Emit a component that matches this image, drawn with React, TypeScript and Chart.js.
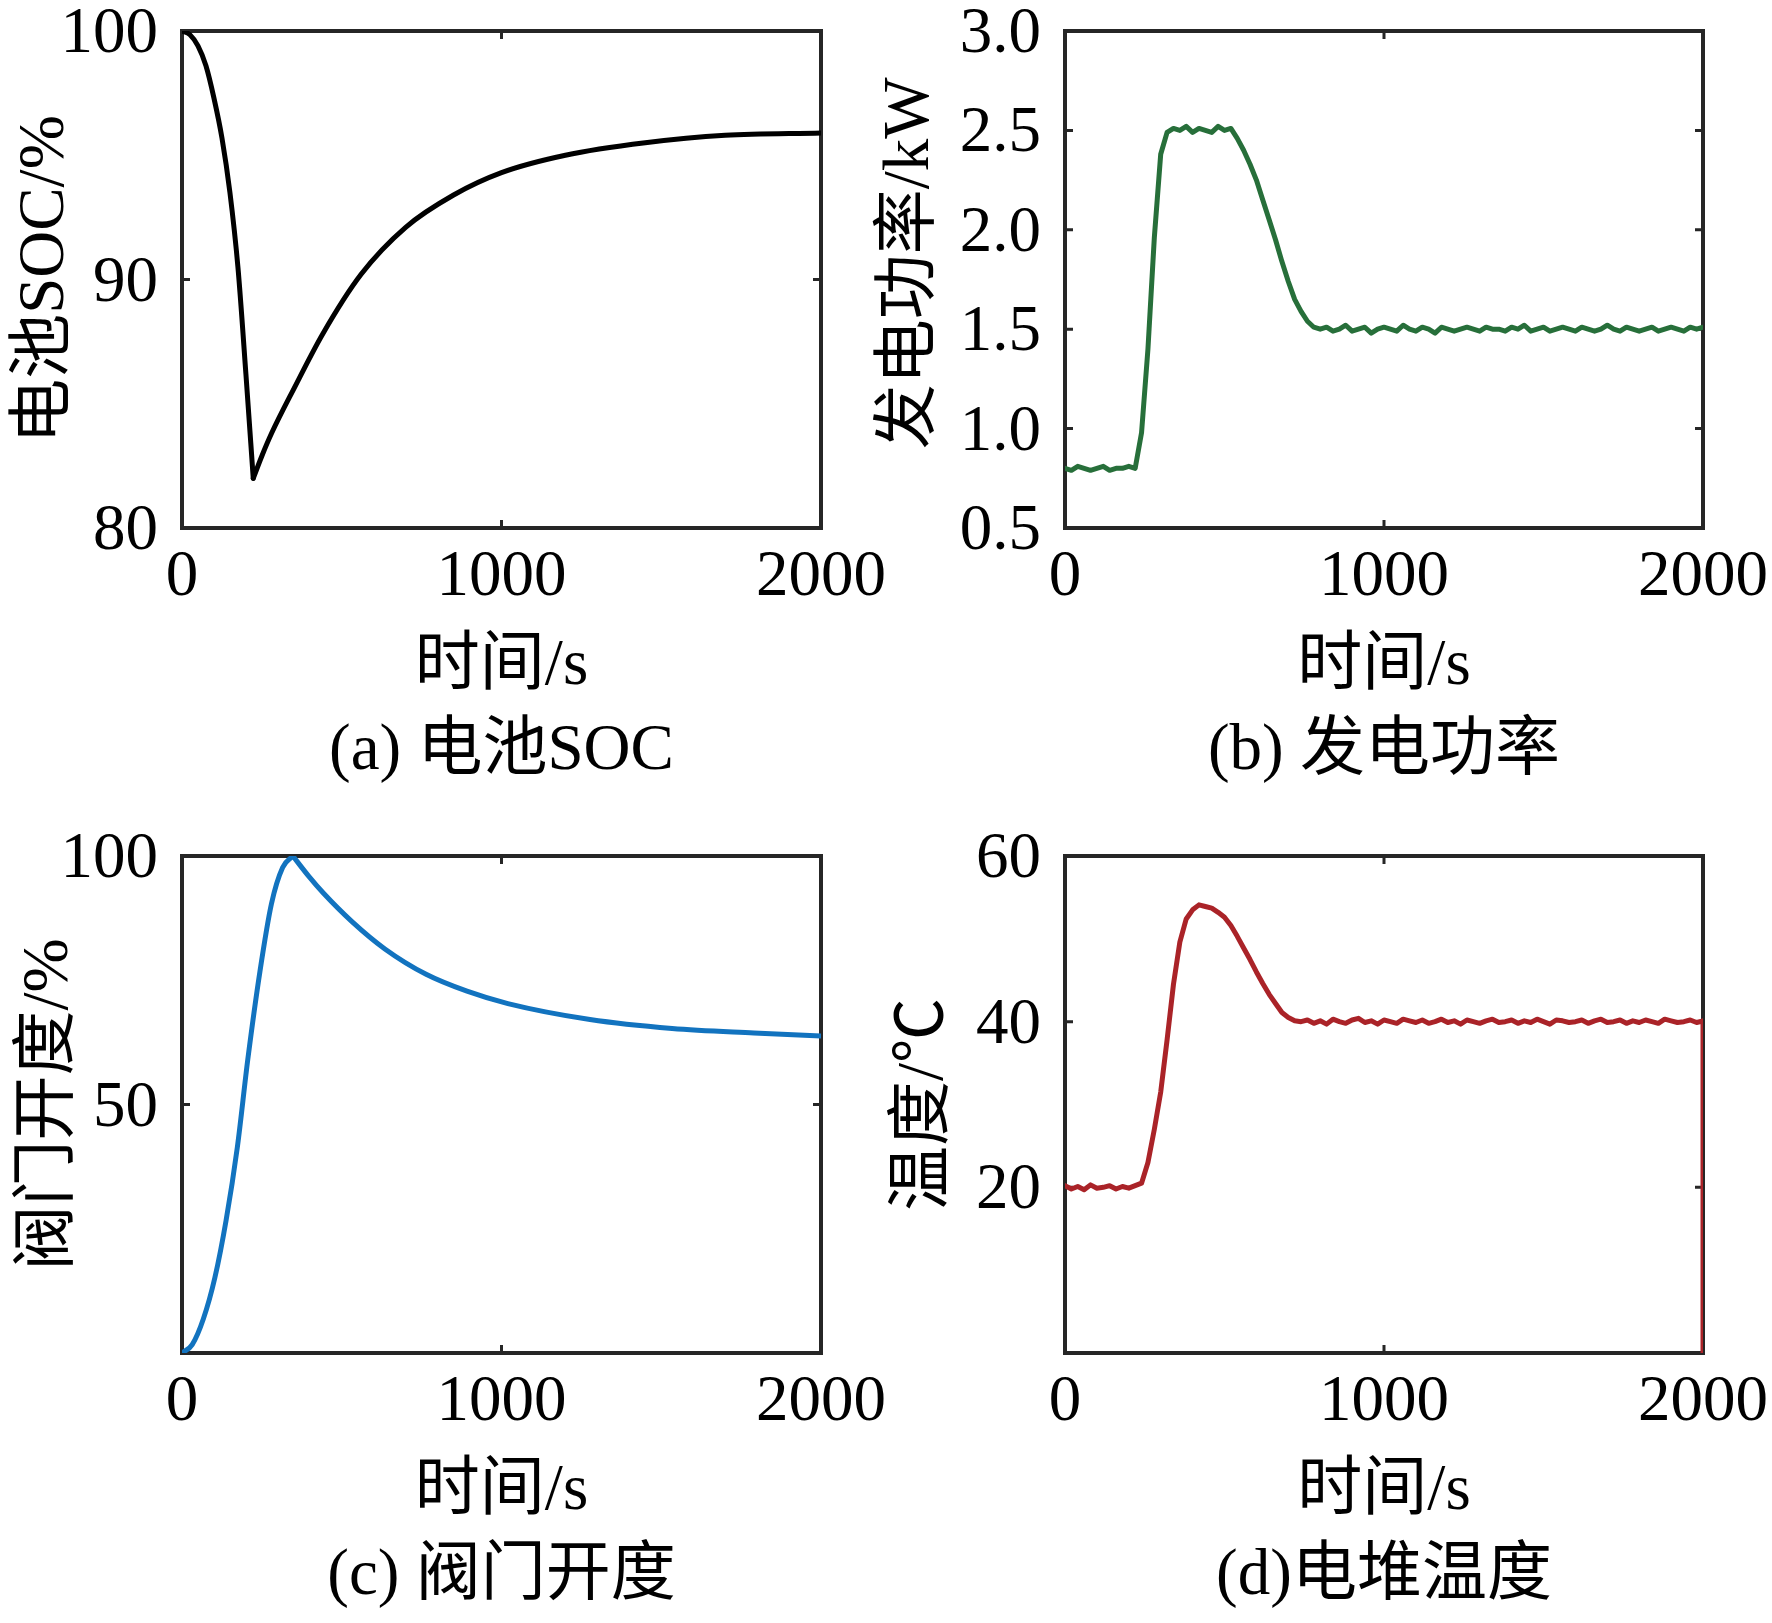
import { useEffect, useRef } from "react";
import { Chart, registerables } from "chart.js";

Chart.register(...registerables);

const FONT = '"Liberation Serif", "Noto Sans CJK SC", serif';

// shared time axis
const timeTicks = [0, 1000, 2000];
const sampleStep = 20; // s, for the measured (noisy) series

// (a) 电池SOC: discharge, then recovery (split at the sharp minimum)
const socDropTime = [0, 25, 50, 75, 100, 125, 150, 175, 200, 223];
const socDropValue = [100, 99.85, 99.4, 98.6, 97.3, 95.7, 93.5, 90.5, 86.2, 82.0];
const socRiseTime = [223, 250, 280, 350, 440, 560, 700, 850, 1000, 1200, 1450, 1700, 2000];
const socRiseValue = [82.0, 82.9, 83.8, 85.6, 87.8, 90.2, 92.1, 93.4, 94.3, 95.0, 95.5, 95.8, 95.9];

// (b) 发电功率, one value every 20 s from 0 to 2000 s
const powerValue = [
  0.80, 0.79, 0.81, 0.80, 0.79, 0.80, 0.81, 0.79, 0.80, 0.80, 0.81, 0.80,
  0.98, 1.40, 1.96, 2.38, 2.49, 2.51, 2.50, 2.52, 2.49, 2.51, 2.50, 2.49, 2.52, 2.50, 2.51,
  2.46, 2.40, 2.33, 2.25, 2.15, 2.05, 1.95, 1.84, 1.74, 1.65, 1.59, 1.54, 1.51, 1.50,
  1.51, 1.49, 1.50, 1.52, 1.49, 1.50, 1.51, 1.48, 1.50, 1.51,
  1.50, 1.49, 1.52, 1.50, 1.49, 1.51, 1.50, 1.48, 1.51, 1.50,
  1.49, 1.50, 1.51, 1.50, 1.49, 1.51, 1.50, 1.50, 1.49, 1.51,
  1.50, 1.52, 1.49, 1.50, 1.51, 1.49, 1.50, 1.51, 1.50, 1.49,
  1.51, 1.50, 1.49, 1.50, 1.52, 1.50, 1.49, 1.51, 1.50, 1.49,
  1.50, 1.51, 1.49, 1.50, 1.51, 1.50, 1.49, 1.51, 1.50, 1.51,
];

// (c) 阀门开度: opening, then relaxing (split at the sharp peak)
const valveOpenTime = [0, 32, 67, 103, 138, 173, 206, 244, 280, 315, 347];
const valveOpenValue = [0, 1.7, 6.9, 15.2, 26.7, 41.3, 59.1, 76.8, 90.4, 97.7, 100];
const valveCloseTime = [347, 397, 443, 532, 635, 764, 892, 1020, 1277, 1534, 1790, 2000];
const valveCloseValue = [100, 95.9, 92.5, 86.8, 81.3, 76.2, 72.8, 70.3, 67.1, 65.3, 64.4, 63.8];

// (d) 电堆温度, one value every 20 s, then the drop at the end
const tempValue = [
  20.2, 19.8, 20.1, 19.7, 20.3, 19.9, 20.0, 20.2, 19.8, 20.1, 19.9, 20.2,
  20.5, 23.0, 27.0, 31.5, 37.8, 44.5, 49.6, 52.4, 53.5, 54.1, 53.9, 53.7, 53.2,
  52.6, 51.6, 50.3, 48.9, 47.5, 46.0, 44.6, 43.3, 42.2, 41.1, 40.5, 40.1, 40.0,
  40.2, 39.8, 40.1, 39.7, 40.3, 40.0, 39.8, 40.2, 40.4, 39.9,
  40.1, 39.7, 40.2, 40.0, 39.8, 40.3, 40.1, 39.9, 40.2, 39.8,
  40.0, 40.3, 39.9, 40.1, 39.7, 40.2, 40.0, 39.8, 40.1, 40.3,
  39.9, 40.0, 40.2, 39.8, 40.1, 39.9, 40.3, 40.0, 39.7, 40.2,
  40.1, 39.9, 40.0, 40.2, 39.8, 40.1, 40.3, 39.9, 40.0, 40.2,
  39.8, 40.1, 39.9, 40.2, 40.0, 39.8, 40.3, 40.1, 39.9, 40.0,
  40.2, 39.9, 40.1,
];
const tempEndTime = 2000;
const tempEndValue = 0;

type Pt = { x: number; y: number };

const pairs = (t: number[], v: number[]): Pt[] => v.map((y, i) => ({ x: t[i], y }));
const sampled = (v: number[]): Pt[] => v.map((y, i) => ({ x: i * sampleStep, y }));

const TICK_LEN = 8;
const CAPTION_GAP = 224;

const boxPlugin = {
  id: "box",
  beforeDatasetsDraw(chart: any) {
    const { ctx, chartArea, scales } = chart;
    const { left, top, right, bottom } = chartArea;
    ctx.save();
    ctx.strokeStyle = "#262626";
    ctx.lineWidth = 4;
    ctx.strokeRect(left, top, right - left, bottom - top);
    ctx.lineWidth = 3;
    ctx.beginPath();
    for (const t of scales.x.ticks) {
      const px = scales.x.getPixelForValue(t.value);
      ctx.moveTo(px, bottom);
      ctx.lineTo(px, bottom - TICK_LEN);
      ctx.moveTo(px, top);
      ctx.lineTo(px, top + TICK_LEN);
    }
    for (const t of scales.y.ticks) {
      const py = scales.y.getPixelForValue(t.value);
      ctx.moveTo(left, py);
      ctx.lineTo(left + TICK_LEN, py);
      ctx.moveTo(right, py);
      ctx.lineTo(right - TICK_LEN, py);
    }
    ctx.stroke();
    ctx.restore();
  },
  afterDraw(chart: any, _args: any, opts: any) {
    if (!opts.caption) return;
    const { ctx, chartArea } = chart;
    ctx.save();
    ctx.font = `65px ${FONT}`;
    ctx.fillStyle = "#000";
    ctx.textAlign = "center";
    ctx.textBaseline = "middle";
    ctx.fillText(opts.caption, (chartArea.left + chartArea.right) / 2, chartArea.bottom + CAPTION_GAP);
    ctx.restore();
  },
};

type PanelDef = {
  plotLeft: number;
  plotTop: number;
  plotWidth: number;
  yAxisWidth: number;
  yTitlePad: number;
  segments: Pt[][];
  color: string;
  smooth: boolean;
  yMin: number;
  yMax: number;
  yStep: number;
  decimals: number;
  hideZero: boolean;
  yTitle: string;
  caption: string;
};

const PAD_TOP = 31;
const PLOT_H = 497;
const X_AXIS_H = 178;
const PAD_BOTTOM = 86;
const PAD_RIGHT = 65;

const panels: PanelDef[] = [
  {
    plotLeft: 182, plotTop: 31, plotWidth: 639, yAxisWidth: 182, yTitlePad: 7,
    segments: [pairs(socDropTime, socDropValue), pairs(socRiseTime, socRiseValue)],
    color: "#000000", smooth: true,
    yMin: 80, yMax: 100, yStep: 10, decimals: 0, hideZero: false,
    yTitle: "电池SOC/%", caption: "(a) 电池SOC",
  },
  {
    plotLeft: 1065, plotTop: 31, plotWidth: 638, yAxisWidth: 205, yTitlePad: 12,
    segments: [sampled(powerValue)], color: "#276F3A", smooth: false,
    yMin: 0.5, yMax: 3.0, yStep: 0.5, decimals: 1, hideZero: false,
    yTitle: "  发电功率/kW", caption: "(b) 发电功率",
  },
  {
    plotLeft: 182, plotTop: 856, plotWidth: 639, yAxisWidth: 182, yTitlePad: 11,
    segments: [pairs(valveOpenTime, valveOpenValue), pairs(valveCloseTime, valveCloseValue)],
    color: "#1273BF", smooth: true,
    yMin: 0, yMax: 100, yStep: 50, decimals: 0, hideZero: true,
    yTitle: "阀门开度/%", caption: "(c) 阀门开度",
  },
  {
    plotLeft: 1065, plotTop: 856, plotWidth: 638, yAxisWidth: 205, yTitlePad: 26,
    segments: [[...sampled(tempValue), { x: tempEndTime, y: tempEndValue }]],
    color: "#AA2328", smooth: false,
    yMin: 0, yMax: 60, yStep: 20, decimals: 0, hideZero: true,
    yTitle: "温度/℃", caption: "(d)电堆温度",
  },
];

function Panel({ def }: { def: PanelDef }) {
  const ref = useRef<HTMLCanvasElement>(null);
  const width = def.yAxisWidth + def.plotWidth + PAD_RIGHT;
  const height = PAD_TOP + PLOT_H + X_AXIS_H + PAD_BOTTOM;

  useEffect(() => {
    if (!ref.current) return;
    const tickFont = { family: FONT, size: 65, lineHeight: 1.2 };
    const chart = new Chart(ref.current, {
      type: "line",
      data: {
        datasets: def.segments.map((seg) => ({
          data: seg,
          borderColor: def.color,
          borderWidth: 5,
          pointRadius: 0,
          fill: false,
          tension: 0,
          cubicInterpolationMode: def.smooth ? "monotone" : "default",
          borderJoinStyle: "round",
          borderCapStyle: "round",
        })),
      },
      options: {
        responsive: false,
        animation: false,
        events: [],
        layout: { padding: { top: PAD_TOP, right: PAD_RIGHT, bottom: PAD_BOTTOM, left: 0 } },
        plugins: {
          legend: { display: false },
          tooltip: { enabled: false },
          box: { caption: def.caption },
        } as any,
        scales: {
          x: {
            type: "linear",
            min: timeTicks[0],
            max: timeTicks[timeTicks.length - 1],
            grid: { display: false, drawTicks: false },
            border: { display: false },
            afterBuildTicks: (scale: any) => {
              scale.ticks = timeTicks.map((value) => ({ value }));
            },
            ticks: {
              font: tickFont,
              color: "#000",
              padding: 11,
              maxRotation: 0,
              autoSkip: false,
              callback: (v: any) => String(v),
            },
            title: {
              display: true,
              text: "时间/s",
              font: tickFont,
              color: "#000",
              padding: { top: 0, bottom: 0 },
            },
            afterFit: (scale: any) => {
              scale.height = X_AXIS_H;
              scale.paddingLeft = 0;
              scale.paddingRight = 0;
            },
          },
          y: {
            type: "linear",
            min: def.yMin,
            max: def.yMax,
            grid: { display: false, drawTicks: false },
            border: { display: false },
            ticks: {
              stepSize: def.yStep,
              font: tickFont,
              color: "#000",
              padding: 24,
              labelOffset: 4,
              autoSkip: false,
              callback: (v: any) =>
                def.hideZero && Number(v) === 0 ? "" : Number(v).toFixed(def.decimals),
            },
            title: {
              display: true,
              text: def.yTitle,
              font: tickFont,
              color: "#000",
              padding: { top: def.yTitlePad, bottom: 0 },
            },
            afterFit: (scale: any) => {
              scale.width = def.yAxisWidth;
              scale.paddingTop = 0;
              scale.paddingBottom = 0;
            },
          },
        },
      },
      plugins: [boxPlugin],
    });
    return () => chart.destroy();
  }, [def]);

  return (
    <canvas
      ref={ref}
      width={width}
      height={height}
      style={{
        position: "absolute",
        left: def.plotLeft - def.yAxisWidth,
        top: def.plotTop - PAD_TOP,
        width,
        height,
      }}
    />
  );
}

export default function App() {
  return (
    <div
      style={{
        position: "absolute",
        left: 0,
        top: 0,
        width: 1772,
        height: 1623,
        overflow: "hidden",
        background: "#fff",
      }}
    >
      {panels.map((p) => (
        <Panel key={p.caption} def={p} />
      ))}
    </div>
  );
}
